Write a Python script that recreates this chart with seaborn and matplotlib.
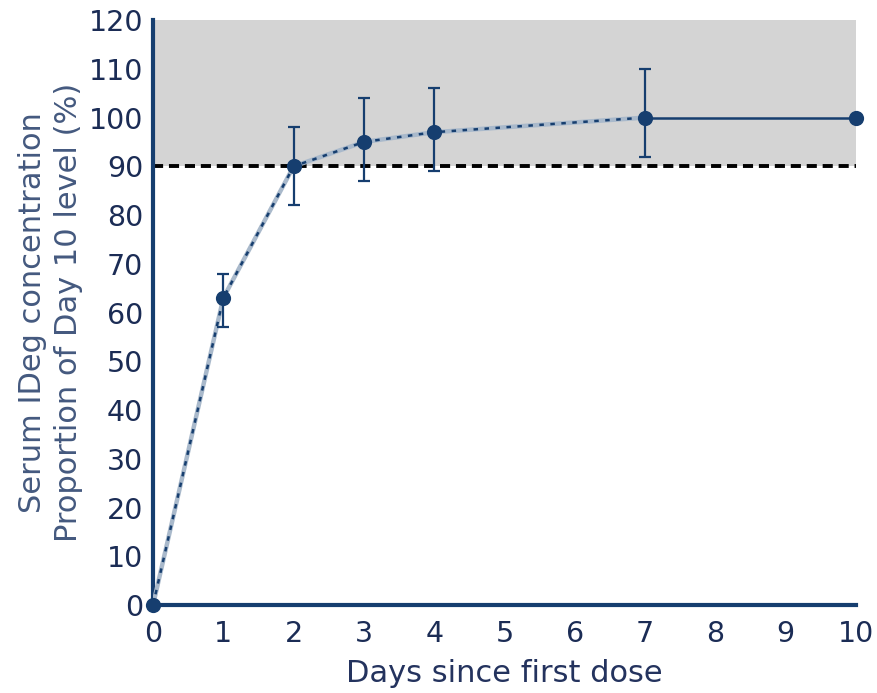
import numpy as np
import pandas as pd
import matplotlib
matplotlib.use("Agg")
import matplotlib.pyplot as plt
import seaborn as sns

# Mean serum IDeg concentration relative to the Day 10 level
days = [0, 1, 2, 3, 4, 7, 10]
proportion = [0, 63, 90, 95, 97, 100, 100]
err_low = [None, 57, 82, 87, 89, 92, None]
err_high = [None, 68, 98, 104, 106, 110, None]
steady_state_threshold = 90
x_ticks = list(range(0, 11))
y_ticks = list(range(0, 121, 10))

NAVY = "#163e6f"
TICK_TEXT = "#1b2c55"
YLABEL = "#44597f"
XLABEL = "#24335e"

sns.set_style("white")
plt.rcParams["font.family"] = ["DejaVu Sans"]

df = pd.DataFrame({"day": days, "pct": proportion,
                   "lo": err_low, "hi": err_high})

fig = plt.figure(figsize=(8.77, 6.93), dpi=100)
ax = fig.add_axes([0.1745, 0.127, 0.8015, 0.844])

# steady-state band above the threshold
ax.axhspan(steady_state_threshold, 120, color="#d4d4d4", zorder=0, lw=0)
ax.axhline(steady_state_threshold, color="black", lw=2.8,
           ls=(0, (2.6, 1.5)), zorder=2)

rising = df[df["day"] <= 7]
plateau = df[df["day"] >= 7]

sns.lineplot(data=rising, x="day", y="pct", ax=ax, color="#a9b9cb",
             lw=3.2, zorder=3, legend=False)
sns.lineplot(data=rising, x="day", y="pct", ax=ax, color=NAVY,
             lw=1.8, ls=(0, (1.8, 2.6)), zorder=4, legend=False)
sns.lineplot(data=plateau, x="day", y="pct", ax=ax, color=NAVY,
             lw=1.8, zorder=4, legend=False)

eb = df.dropna()
ax.errorbar(eb["day"], eb["pct"],
            yerr=[eb["pct"] - eb["lo"], eb["hi"] - eb["pct"]],
            fmt="none", ecolor=NAVY, elinewidth=1.6, capsize=4.5,
            capthick=1.6, zorder=5)

sns.scatterplot(data=df, x="day", y="pct", ax=ax, color=NAVY, s=120,
                edgecolor=NAVY, linewidth=0, zorder=6, legend=False,
                clip_on=False)

ax.set_xlim(0, 10)
ax.set_ylim(0, 120)
ax.set_xticks(x_ticks)
ax.set_yticks(y_ticks)
ax.tick_params(axis="both", colors=NAVY, labelsize=20.5, length=5,
               width=3.5, direction="out")
ax.tick_params(axis="x", pad=6)
ax.tick_params(axis="y", pad=2)
for lab in ax.get_xticklabels() + ax.get_yticklabels():
    lab.set_color(TICK_TEXT)

for side in ("top", "right"):
    ax.spines[side].set_visible(False)
for side in ("left", "bottom"):
    ax.spines[side].set_color(NAVY)
    ax.spines[side].set_linewidth(3)

ax.set_xlabel("Days since first dose", fontsize=22, color=XLABEL,
              labelpad=8)
ax.set_ylabel("Serum IDeg concentration\nProportion of Day 10 level (%)",
              fontsize=22, color=YLABEL, labelpad=4, linespacing=1.3)

fig.savefig("out.png", dpi=100)
